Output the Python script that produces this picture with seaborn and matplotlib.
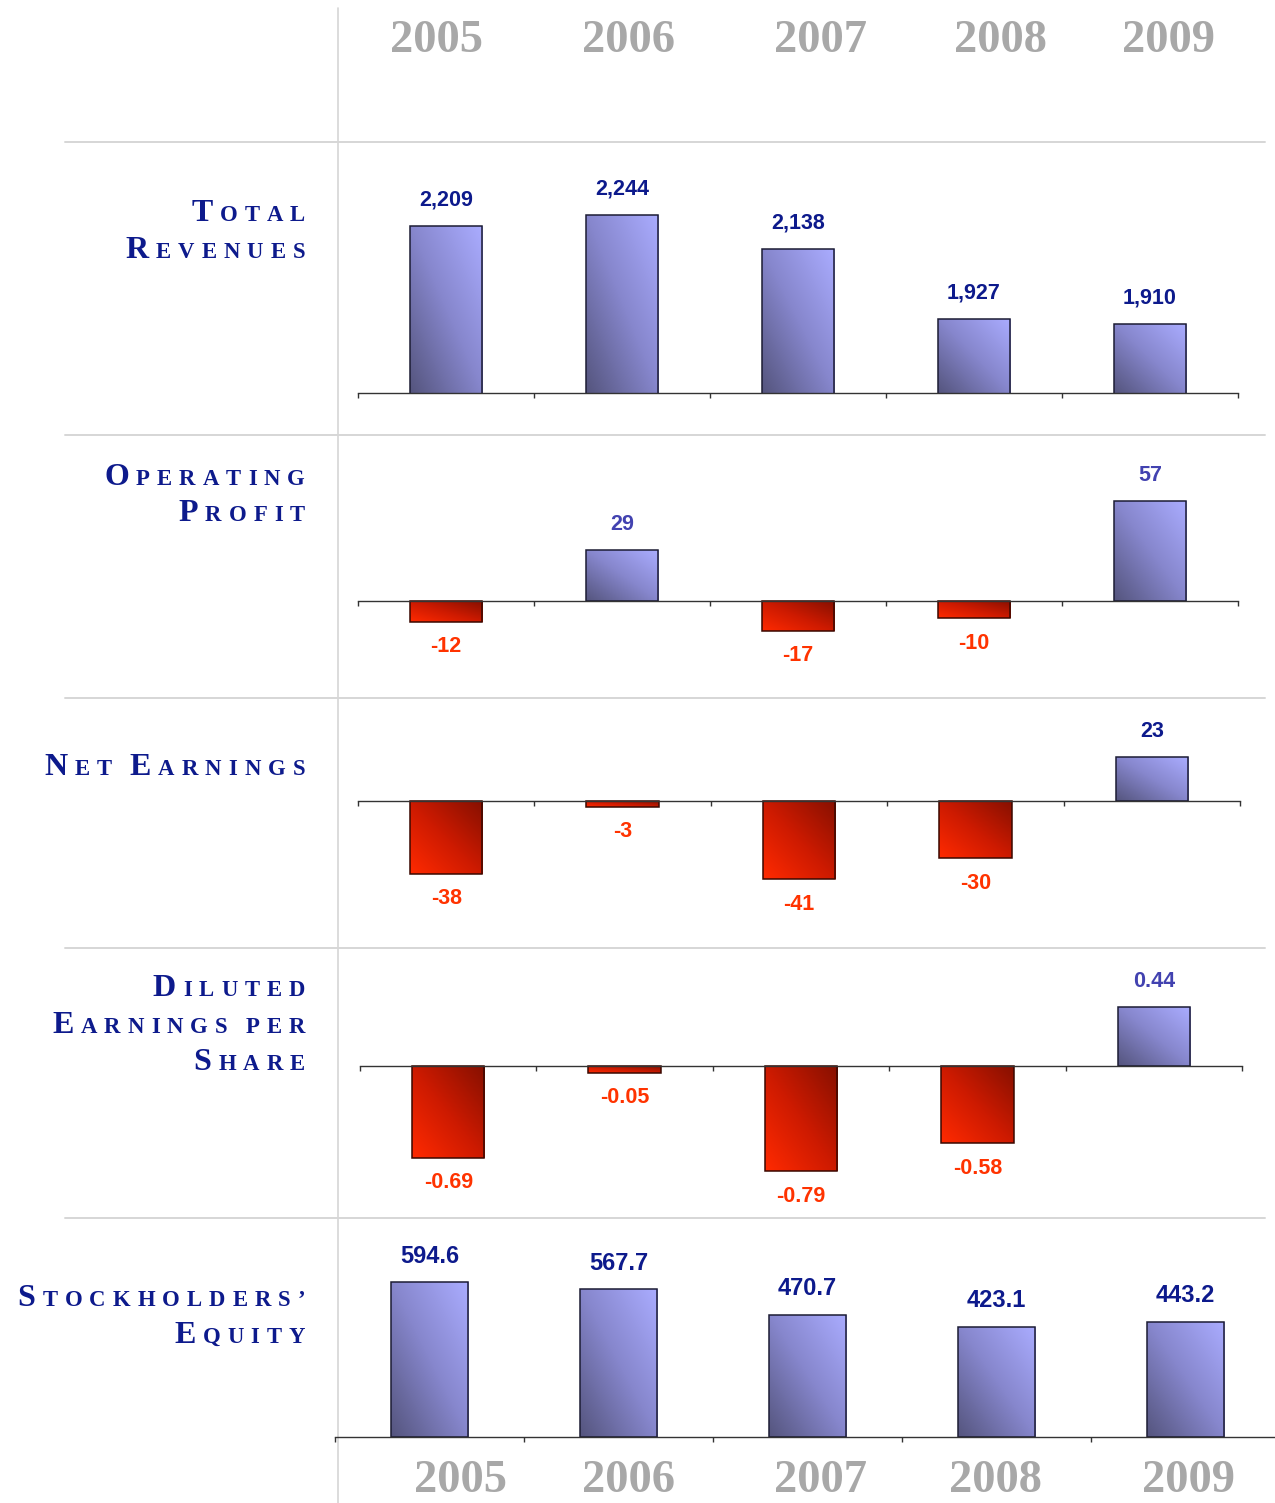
import numpy as np
import pandas as pd
import matplotlib
matplotlib.use("Agg")
import matplotlib.pyplot as plt
import seaborn as sns
from matplotlib.colors import LinearSegmentedColormap
from matplotlib.transforms import IdentityTransform
from matplotlib.lines import Line2D

# ---------------- data ----------------
years = ["2005", "2006", "2007", "2008", "2009"]
total_revenues = [2209, 2244, 2138, 1927, 1910]
revenue_labels = ["2,209", "2,244", "2,138", "1,927", "1,910"]
operating_profit = [-12, 29, -17, -10, 57]
operating_labels = ["-12", "29", "-17", "-10", "57"]
net_earnings = [-38, -3, -41, -30, 23]
net_labels = ["-38", "-3", "-41", "-30", "23"]
diluted_eps = [-0.69, -0.05, -0.79, -0.58, 0.44]
eps_labels = ["-0.69", "-0.05", "-0.79", "-0.58", "0.44"]
stockholders_equity = [594.6, 567.7, 470.7, 423.1, 443.2]
equity_labels = ["594.6", "567.7", "470.7", "423.1", "443.2"]
row_titles = [["Total", "Revenues"], ["Operating", "Profit"], ["Net Earnings"],
              ["Diluted", "Earnings per", "Share"], ["Stockholders\u2019", "Equity"]]

# ---------------- style ----------------
W, H, DPI = 1275, 1503, 100
NAVY = "#0d1a8c"
MED = "#4242b0"
RED = "#ff3300"
GRAY_YEAR = "#a8a8a8"
SEP = "#d6d6d6"
pos_cmap = LinearSegmentedColormap.from_list("pos", ["#55557e", "#8686cc", "#aaacff"])
neg_cmap = LinearSegmentedColormap.from_list("neg", ["#ff2a00", "#cc1a00", "#861000"])

sns.set_theme(style="white")
plt.rcParams["font.family"] = ["Liberation Sans", "DejaVu Sans"]

fig = plt.figure(figsize=(W / DPI, H / DPI), dpi=DPI)
fig.patch.set_facecolor("white")


def px_axes(x0, x1, ytop, ybot):
    return fig.add_axes([x0 / W, 1 - ybot / H, (x1 - x0) / W, (ybot - ytop) / H])


def gradient_bars(ax, ylim):
    u = np.linspace(0, 1, 64)
    uu, vv = np.meshgrid(u, u)
    grad = (uu + vv) / 2.0
    for p in list(ax.patches):
        x0, w = p.get_x(), p.get_width()
        y0, h = p.get_y(), p.get_height()
        lo, hi = min(y0, y0 + h), max(y0, y0 + h)
        lo = max(lo, ylim[0])
        hi = min(hi, ylim[1])
        neg = (y0 + h) < 0 or (h < 0)
        cmap = neg_cmap if neg else pos_cmap
        im = ax.imshow(grad, extent=[x0, x0 + w, lo, hi], origin="lower", cmap=cmap,
                       aspect="auto", interpolation="bilinear", zorder=2)
        im.set_clip_path(p)
        p.set_facecolor("none")
        p.set_edgecolor("#3a0800" if neg else "#1c1c34")
        p.set_linewidth(1.1)
        p.set_zorder(3)


panels = [
    dict(values=total_revenues, labels=revenue_labels, xr=(358, 1238), yr=(150, 393),
         base=393, scale=0.328, floor=1700, poscol=NAVY, fs=15.5),
    dict(values=operating_profit, labels=operating_labels, xr=(358, 1238), yr=(445, 690),
         base=601, scale=1.75, floor=0, poscol=MED, fs=15.5),
    dict(values=net_earnings, labels=net_labels, xr=(358, 1240), yr=(708, 940),
         base=801, scale=1.91, floor=0, poscol=NAVY, fs=15.5),
    dict(values=diluted_eps, labels=eps_labels, xr=(360, 1242), yr=(958, 1210),
         base=1066, scale=133.0, floor=0, poscol=MED, fs=15.5),
    dict(values=stockholders_equity, labels=equity_labels, xr=(335, 1280), yr=(1228, 1437),
         base=1437, scale=0.26, floor=0, poscol=NAVY, fs=17),
]

for cfg in panels:
    ax = px_axes(cfg["xr"][0], cfg["xr"][1], cfg["yr"][0], cfg["yr"][1])
    ax.set_facecolor("none")
    top, bot = cfg["yr"]
    ylim = (cfg["floor"] - (bot - cfg["base"]) / cfg["scale"],
            cfg["floor"] + (cfg["base"] - top) / cfg["scale"])
    df = pd.DataFrame({"year": years, "value": cfg["values"]})
    sns.barplot(data=df, x="year", y="value", ax=ax, color="#8888cc", width=0.41,
                errorbar=None, saturation=1)
    gradient_bars(ax, ylim)
    ax.set_xlim(-0.5, 4.5)
    ax.set_ylim(*ylim)
    for s in ["top", "left", "right"]:
        ax.spines[s].set_visible(False)
    ax.spines["bottom"].set_position(("data", cfg["floor"]))
    ax.spines["bottom"].set_color("#333333")
    ax.spines["bottom"].set_linewidth(1.0)
    ax.spines["bottom"].set_zorder(4)
    ax.set_xticks(np.arange(-0.5, 5.0, 1.0))
    ax.set_xticklabels([])
    ax.tick_params(axis="x", bottom=True, direction="out", length=3.5, width=1.0,
                   color="#333333")
    ax.set_yticks([])
    ax.set_xlabel("")
    ax.set_ylabel("")
    for i, (v, lab) in enumerate(zip(cfg["values"], cfg["labels"])):
        if v >= 0:
            ax.annotate(lab, xy=(i, v), xytext=(0, 26), textcoords="offset pixels",
                        ha="center", va="center", fontsize=cfg["fs"], fontweight="bold",
                        color=cfg["poscol"], family="Liberation Sans")
        else:
            ax.annotate(lab, xy=(i, v), xytext=(0, -25), textcoords="offset pixels",
                        ha="center", va="center", fontsize=cfg["fs"], fontweight="bold",
                        color=RED, family="Liberation Sans")

# ---------------- separators ----------------
for yy in [142, 435, 698, 948, 1218]:
    fig.add_artist(Line2D([65 / W, 1265 / W], [1 - yy / H, 1 - yy / H],
                          transform=fig.transFigure, color=SEP, lw=1.4, zorder=0))
fig.add_artist(Line2D([338 / W, 338 / W], [1 - 8 / H, 0], transform=fig.transFigure,
                      color=SEP, lw=1.2, zorder=0))

# ---------------- year headers ----------------
top_x = [436, 628, 820, 1000, 1168]
bot_x = [461, 628, 820, 995, 1188]
for yr, xt, xb in zip(years, top_x, bot_x):
    fig.text(xt / W, 1 - 41 / H, yr, ha="center", va="center", fontsize=33.5,
             fontweight="bold", family="Liberation Serif", color=GRAY_YEAR)
    fig.text(xb / W, 1 - 1481 / H, yr, ha="center", va="center", fontsize=33.5,
             fontweight="bold", family="Liberation Serif", color=GRAY_YEAR)

# ---------------- small-caps row titles ----------------
renderer = fig.canvas.get_renderer()


def small_caps(line, x_right, baseline, big=23, small=16.4, track=7.0, space=11.0):
    texts = []
    for wi, word in enumerate(line.split(" ")):
        for ci, ch in enumerate(word):
            size = big if (ci == 0 and ch.isupper()) else small
            t = fig.text(0, 0, ch.upper(), fontsize=size, family="Liberation Serif",
                         fontweight="bold", color=NAVY, ha="left", va="baseline",
                         transform=IdentityTransform())
            w = t.get_window_extent(renderer).width
            texts.append((t, w, wi > 0 and ci == 0))
    total = sum(w for _, w, _ in texts) + track * (len(texts) - 1) + \
        space * sum(1 for _, _, nw in texts if nw)
    x = x_right - total
    y = H - baseline
    for t, w, nw in texts:
        if nw:
            x += space
        t.set_position((x, y))
        x += w + track


baselines = [[221, 258], [485, 521], [775], [996, 1033, 1070], [1306, 1343]]
for lines, bls in zip(row_titles, baselines):
    for line, b in zip(lines, bls):
        small_caps(line, 305, b)

fig.savefig("out.png", dpi=DPI, facecolor="white")
